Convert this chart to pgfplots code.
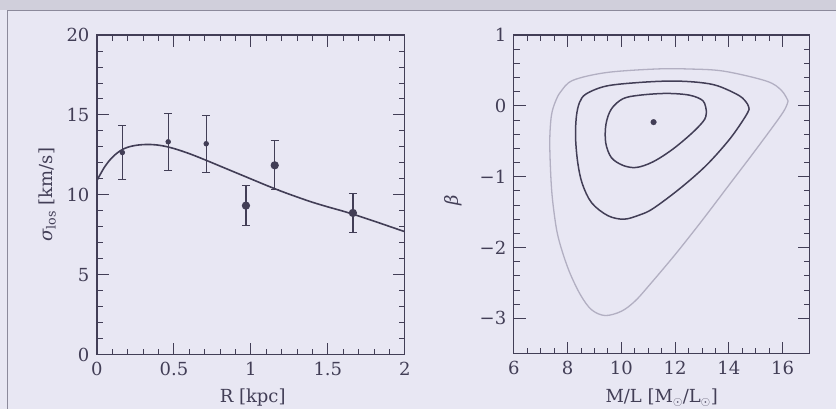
\documentclass[border=0pt]{standalone}
\usepackage{pgfplots}
\pgfplotsset{compat=1.18}
\usepackage{fontspec}
\setmainfont{DejaVu Serif}
\definecolor{bg}{RGB}{232,231,243}
\definecolor{band}{RGB}{208,207,219}
\definecolor{frameline}{RGB}{140,138,155}
\definecolor{ink}{RGB}{66,62,86}
\definecolor{lightc}{RGB}{178,175,194}
\pgfplotsset{
  mybox/.style={
    scale only axis, anchor=south west,
    axis line style={ink, line width=1.3pt},
    tick style={ink, line width=0.9pt},
    major tick length=12pt, minor tick length=6pt,
    tick align=inside, tick pos=both,
    ticklabel style={text=ink, font=\fontsize{18}{20}\selectfont},
    label style={text=ink, font=\fontsize{18}{20}\selectfont},
    xticklabel style={yshift=-4pt},
    yticklabel style={xshift=-4pt},
  }
}
\begin{document}
\begin{tikzpicture}[x=1pt,y=1pt]
\fill[bg] (0,0) rectangle (836,409);
\fill[band] (0,399) rectangle (836,409);
\draw[frameline, line width=0.9pt] (7,0) -- (7,399) -- (836,399);

\begin{axis}[mybox,
  at={(97pt,54pt)}, width=308pt, height=320pt,
  xmin=0, xmax=2, ymin=0, ymax=20,
  xtick={0,0.5,1,1.5,2}, xticklabels={0,0.5,1,1.5,2},
  ytick={0,5,10,15,20}, yticklabels={0,5,10,15,20},
  minor x tick num=4, minor y tick num=4,
  xlabel={R [kpc]},
  ylabel={{\itshape σ}\textsubscript{los} [km/s]},
  xlabel style={at={(axis description cs:0.506,-0.134)}, anchor=center},
  ylabel style={at={(axis description cs:-0.162,0.5)}, anchor=center},
]
\addplot[ink, line width=1.6pt, smooth, tension=0.6] coordinates {
(0,10.9) (0.05,11.75) (0.1,12.35) (0.15,12.75) (0.2,12.98) (0.27,13.12)
(0.35,13.15) (0.42,13.08) (0.5,12.9) (0.6,12.58) (0.7,12.2) (0.8,11.8)
(0.9,11.4) (1.0,11.0) (1.1,10.6) (1.2,10.22) (1.3,9.87) (1.4,9.54)
(1.5,9.25) (1.6,8.98) (1.7,8.68) (1.8,8.36) (1.9,8.03) (2.0,7.7)
};
\addplot[ink, only marks, mark=*, mark size=2.2pt, line width=1pt,
  error bars/.cd, y dir=both, y explicit,
  error bar style={ink, line width=1pt},
  error mark options={rotate=90, mark size=4pt, ink, line width=1pt}]
  coordinates {
  (0.165,12.65) +- (0,1.69)
  (0.463,13.32) +- (0,1.79)
  (0.71,13.2) +- (0,1.77)
};
\addplot[ink, only marks, mark=*, mark size=3.6pt, line width=1pt,
  error bars/.cd, y dir=both, y explicit,
  error bar style={ink, line width=1.3pt},
  error mark options={rotate=90, mark size=4pt, ink, line width=1.1pt}]
  coordinates {
  (0.968,9.33) +- (0,1.24)
  (1.155,11.85) +- (0,1.53)
  (1.663,8.87) +- (0,1.24)
};
\end{axis}

\begin{axis}[mybox,
  at={(514pt,55pt)}, width=296pt, height=319pt,
  xmin=6, xmax=17, ymin=-3.5, ymax=1,
  xtick={6,8,10,12,14,16}, xticklabels={6,8,10,12,14,16},
  ytick={-3,-2,-1,0,1}, yticklabels={−3,−2,−1,0,1},
  minor x tick num=3, minor y tick num=4,
  xlabel={M/L [M$_\odot$/L$_\odot$]},
  ylabel={\itshape β},
  xlabel style={at={(axis description cs:0.5,-0.1375)}, anchor=center},
  ylabel style={at={(axis description cs:-0.206,0.48)}, anchor=center},
]
\addplot[lightc, line width=1.3pt, smooth, tension=0.55] coordinates {
(16.2,0.07) (16.0,-0.1) (15.0,-0.62) (14.0,-1.12) (13.0,-1.62) (12.0,-2.1)
(11.0,-2.55) (10.5,-2.76) (10.0,-2.9) (9.4,-2.96) (8.9,-2.88) (8.5,-2.68)
(8.1,-2.37) (7.8,-2.05) (7.6,-1.76) (7.45,-1.35) (7.38,-1.0) (7.34,-0.5)
(7.40,-0.14) (7.55,0.06) (7.75,0.2) (8.2,0.36) (9.45,0.47) (11.3,0.52)
(12.5,0.52) (13.8,0.49) (15.39,0.35) (15.95,0.22) (16.2,0.07)
};
\addplot[ink, line width=1.5pt, smooth, tension=0.55] coordinates {
(14.75,-0.05) (14.6,-0.16) (14.03,-0.47) (13.16,-0.84) (12.17,-1.17)
(11.18,-1.45) (10.68,-1.54) (10.1,-1.6) (9.5,-1.55) (8.9,-1.37) (8.55,-1.1)
(8.38,-0.8) (8.30,-0.45) (8.33,-0.15) (8.45,0.05) (8.70,0.17) (9.45,0.28)
(10.68,0.33) (11.9,0.35) (12.9,0.33) (13.6,0.28) (14.40,0.14) (14.7,0.02)
(14.75,-0.05)
};
\addplot[ink, line width=1.5pt, smooth, tension=0.55] coordinates {
(13.16,-0.07) (13.1,-0.19) (12.67,-0.37) (11.92,-0.61) (11.18,-0.79)
(10.56,-0.87) (10.06,-0.84) (9.63,-0.73) (9.42,-0.52) (9.43,-0.26)
(9.63,-0.045) (10.06,0.10) (10.68,0.15) (11.68,0.175) (12.54,0.15)
(13.04,0.07) (13.16,-0.07)
};
\addplot[ink, only marks, mark=*, mark size=2.8pt] coordinates {(11.2,-0.23)};
\end{axis}
\end{tikzpicture}
\end{document}
